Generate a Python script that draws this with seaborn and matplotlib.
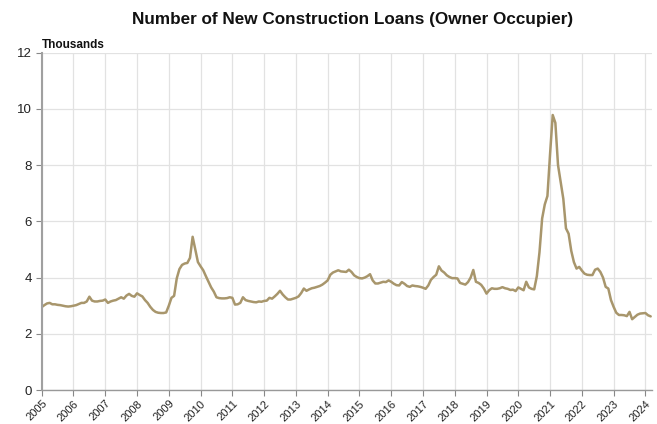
import matplotlib
matplotlib.use("Agg")
import matplotlib.pyplot as plt
import seaborn as sns
import pandas as pd
import numpy as np

# Monthly values (thousands), Jan 2005 .. Mar 2024
v2005 = [2.95, 3.02, 3.08, 3.10, 3.05, 3.05, 3.03, 3.02, 3.00, 2.98, 2.97, 2.98]
v2006 = [3.00, 3.02, 3.06, 3.10, 3.10, 3.15, 3.32, 3.18, 3.15, 3.15, 3.17, 3.18]
v2007 = [3.22, 3.10, 3.15, 3.18, 3.20, 3.25, 3.30, 3.25, 3.36, 3.42, 3.35, 3.32]
v2008 = [3.44, 3.38, 3.33, 3.20, 3.10, 2.96, 2.85, 2.78, 2.75, 2.74, 2.74, 2.76]
v2009 = [3.00, 3.28, 3.35, 3.97, 4.30, 4.45, 4.50, 4.52, 4.70, 5.45, 5.00, 4.55]
v2010 = [4.40, 4.26, 4.05, 3.85, 3.65, 3.50, 3.30, 3.27, 3.26, 3.26, 3.27, 3.30]
v2011 = [3.28, 3.04, 3.05, 3.10, 3.30, 3.20, 3.17, 3.15, 3.13, 3.12, 3.15, 3.14]
v2012 = [3.17, 3.18, 3.28, 3.25, 3.33, 3.42, 3.53, 3.40, 3.30, 3.22, 3.22, 3.25]
v2013 = [3.28, 3.33, 3.45, 3.61, 3.53, 3.58, 3.62, 3.64, 3.67, 3.70, 3.75, 3.82]
v2014 = [3.90, 4.10, 4.18, 4.22, 4.26, 4.22, 4.21, 4.20, 4.28, 4.20, 4.08, 4.02]
v2015 = [3.98, 3.97, 4.00, 4.05, 4.12, 3.90, 3.79, 3.79, 3.82, 3.85, 3.84, 3.90]
v2016 = [3.85, 3.78, 3.73, 3.72, 3.84, 3.78, 3.70, 3.67, 3.72, 3.70, 3.69, 3.67]
v2017 = [3.64, 3.60, 3.72, 3.92, 4.02, 4.10, 4.40, 4.25, 4.18, 4.08, 4.02, 3.98]
v2018 = [3.98, 3.97, 3.81, 3.78, 3.75, 3.84, 4.00, 4.27, 3.85, 3.81, 3.74, 3.61]
v2019 = [3.43, 3.55, 3.62, 3.60, 3.60, 3.62, 3.66, 3.62, 3.60, 3.56, 3.57, 3.52]
v2020 = [3.65, 3.60, 3.55, 3.85, 3.65, 3.60, 3.58, 4.05, 4.90, 6.10, 6.60, 6.90]
v2021 = [8.40, 9.78, 9.50, 8.00, 7.40, 6.80, 5.75, 5.56, 4.95, 4.55, 4.32, 4.38]
v2022 = [4.25, 4.14, 4.10, 4.09, 4.09, 4.28, 4.32, 4.20, 4.00, 3.67, 3.61, 3.20]
v2023 = [2.96, 2.75, 2.67, 2.67, 2.66, 2.63, 2.78, 2.52, 2.60, 2.68, 2.72, 2.73]
v2024 = [2.74, 2.66, 2.62]

yearly = [v2005, v2006, v2007, v2008, v2009, v2010, v2011, v2012, v2013, v2014,
          v2015, v2016, v2017, v2018, v2019, v2020, v2021, v2022, v2023, v2024]
start_year = 2005

values = []
dates = []
for i, arr in enumerate(yearly):
    for m, val in enumerate(arr):
        values.append(val)
        dates.append(start_year + i + m / 12.0)

df = pd.DataFrame({"date": dates, "loans": values})

year_ticks = list(range(2005, 2025))
y_ticks = [0, 2, 4, 6, 8, 10, 12]

title = "Number of New Construction Loans (Owner Occupier)"
unit_label = "Thousands"

sns.set_theme(style="whitegrid")
plt.rcParams["font.family"] = ["Liberation Sans", "DejaVu Sans"]

fig = plt.figure(figsize=(6.57, 4.24), dpi=100)
ax = fig.add_axes([0.0635, 0.080, 0.9285, 0.796])

sns.lineplot(data=df, x="date", y="loans", ax=ax, color="#a8966c", linewidth=1.8)

ax.set_xlim(2005, 2024.2)
ax.set_ylim(0, 12)
ax.set_xticks(year_ticks)
ax.set_xticklabels([str(y) for y in year_ticks], rotation=45, ha="right",
                   rotation_mode="anchor", fontsize=8, color="#222222")
ax.set_yticks(y_ticks)
ax.set_yticklabels([str(y) for y in y_ticks], fontsize=9.5, color="#222222")
ax.set_xlabel("")
ax.set_ylabel("")

ax.grid(True, color="#e2e2e2", linewidth=0.9)
ax.set_facecolor("white")
for side in ["top", "right"]:
    ax.spines[side].set_visible(False)
ax.spines["left"].set_color("#a0a0a0")
ax.spines["left"].set_linewidth(1.5)
ax.spines["bottom"].set_color("#999999")
ax.spines["bottom"].set_linewidth(1.0)
ax.tick_params(axis="both", which="major", length=4, width=0.8, color="#888888",
               direction="out")
ax.tick_params(axis="x", bottom=True, pad=2)
ax.tick_params(axis="y", left=True, pad=3)

fig.text(0.5365, 0.955, title, ha="center", va="center", fontsize=12.3,
         fontweight="bold", color="#111111")
ax.text(0.0, 1.005, unit_label, transform=ax.transAxes, ha="left", va="bottom",
        fontsize=8.5, fontweight="bold", color="#111111")

fig.savefig("out.png", dpi=100)
